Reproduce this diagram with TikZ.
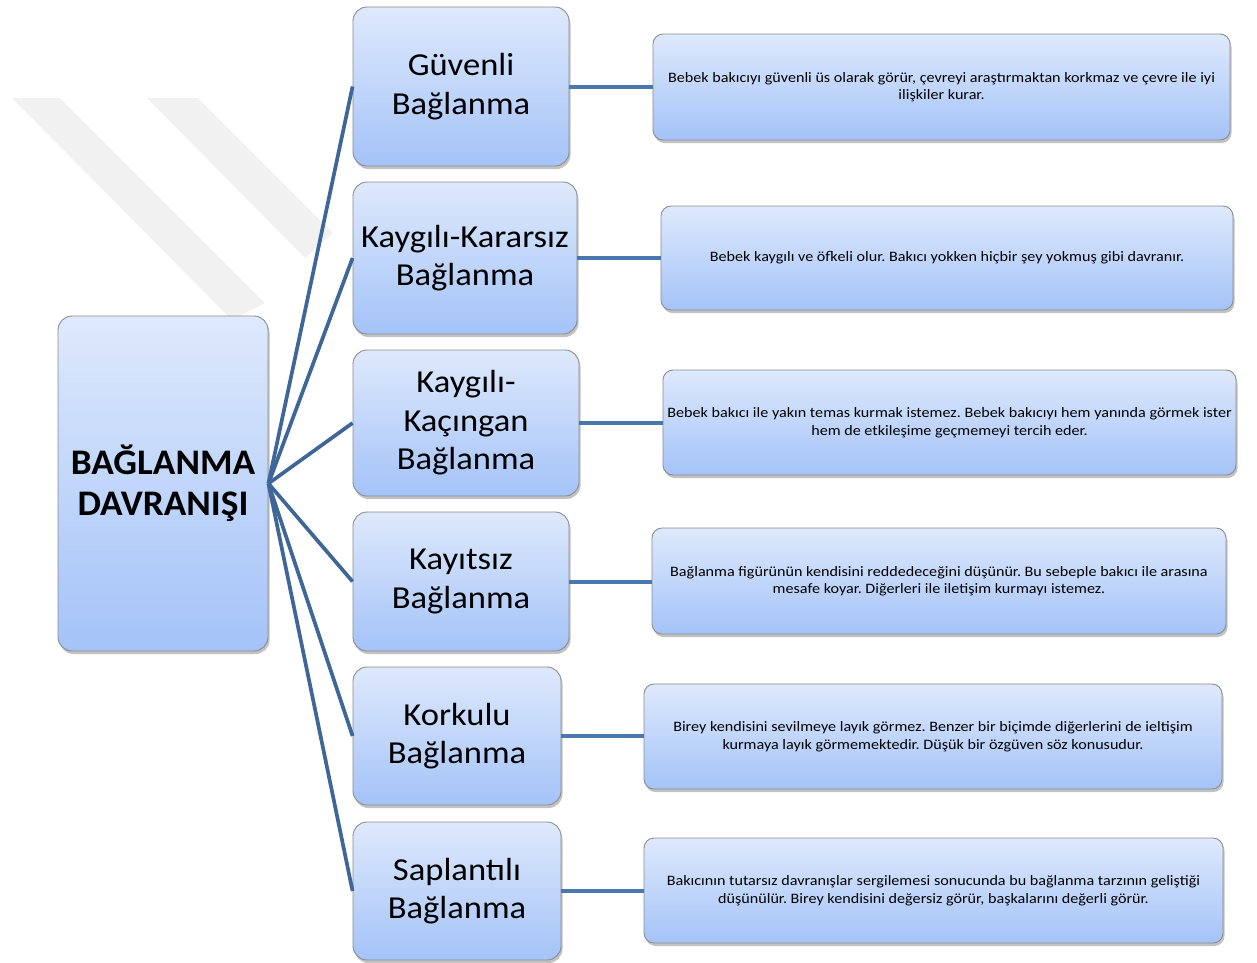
\documentclass[tikz,border=0pt]{standalone}
\usepackage{fontspec}
\setmainfont{Carlito}
\newfontfamily\midfont[FakeStretch=1.08]{Carlito}
\newfontfamily\mainfont[FakeStretch=1.035]{Carlito}
\newfontfamily\descfont[FakeStretch=1.12]{Carlito}
\usetikzlibrary{shadows}
\definecolor{boxtop}{HTML}{DEE9FC}
\definecolor{boxbot}{HTML}{A4C3F8}
\definecolor{fanline}{HTML}{3F6698}
\definecolor{hline}{HTML}{4A77AE}
\definecolor{wmark}{HTML}{F1F1F1}
\frenchspacing
\begin{document}
\begin{tikzpicture}[x=1pt,y=-1pt,
  box/.style={draw=black!45, line width=0.9pt, rounded corners=14pt,
    top color=boxtop, bottom color=boxbot,
    drop shadow={shadow xshift=1.5pt, shadow yshift=-3pt, opacity=0.4, fill=black!60},
    align=center, inner sep=1pt},
  mainbox/.style={box, minimum width=210pt, minimum height=335pt,
    font=\mainfont\fontsize{36}{41}\selectfont\bfseries},
  midbox/.style={box, font=\midfont\fontsize{32}{38.5}\selectfont},
  descbox/.style={box, rounded corners=10pt, font=\descfont\fontsize{14.4}{17.5}\selectfont\frenchspacing},
  fan/.style={draw=fanline, line width=3.7pt},
  link/.style={draw=hline, line width=4pt}]
\useasboundingbox (0,0) rectangle (1257,962);
% watermark
\fill[wmark] (12,98) -- (60,98) -- (265,303) -- (232,320) -- cycle;
\fill[wmark] (147,98) -- (198,98) -- (333,233) -- (305,258) -- cycle;
% nodes
\node[mainbox] (main) at (163,483.5) {BAĞLANMA\\DAVRANIŞI};
\node[midbox, minimum width=216pt, minimum height=159pt] (g1) at (461,86.5) {Güvenli\\Bağlanma};
\node[midbox, minimum width=224pt, minimum height=152pt] (g2) at (465,258) {Kaygılı-Kararsız\\Bağlanma};
\node[midbox, minimum width=226pt, minimum height=146pt] (g3) at (466,423) {Kaygılı-\\Kaçıngan\\Bağlanma};
\node[midbox, minimum width=216pt, minimum height=139pt] (g4) at (461,581.5) {Kayıtsız\\Bağlanma};
\node[midbox, minimum width=208pt, minimum height=138pt] (g5) at (457,736) {Korkulu\\Bağlanma};
\node[midbox, minimum width=208pt, minimum height=138pt] (g6) at (457,891) {Saplantılı\\Bağlanma};
\node[descbox, minimum width=577pt, minimum height=106pt] (d1) at (941.5,87) {Bebek bakıcıyı güvenli üs olarak görür, çevreyi araştırmaktan korkmaz ve çevre ile iyi\\ilişkiler kurar.};
\node[descbox, minimum width=572pt, minimum height=104pt] (d2) at (947,258) {Bebek kaygılı ve öfkeli olur. Bakıcı yokken hiçbir şey yokmuş gibi davranır.};
\node[descbox, minimum width=573pt, minimum height=105pt] (d3) at (949.5,422.5) {Bebek bakıcı ile yakın temas kurmak istemez. Bebek bakıcıyı hem yanında görmek ister\\hem de etkileşime geçmemeyi tercih eder.};
\node[descbox, minimum width=574pt, minimum height=106pt] (d4) at (939,581) {Bağlanma figürünün kendisini reddedeceğini düşünür. Bu sebeple bakıcı ile arasına\\mesafe koyar. Diğerleri ile iletişim kurmayı istemez.};
\node[descbox, minimum width=578pt, minimum height=105pt] (d5) at (933,736.5) {Birey kendisini sevilmeye layık görmez. Benzer bir biçimde diğerlerini de ieltişim\\kurmaya layık görmemektedir. Düşük bir özgüven söz konusudur.};
\node[descbox, minimum width=579pt, minimum height=105pt] (d6) at (933.5,890.5) {Bakıcının tutarsız davranışlar sergilemesi sonucunda bu bağlanma tarzının geliştiği\\düşünülür. Birey kendisini değersiz görür, başkalarını değerli görür.};
% connectors
\foreach \g in {g1,g2,g3,g4,g5,g6}
  \draw[fan] (main.east) -- (\g.west);
\foreach \g/\d in {g1/d1,g2/d2,g3/d3,g4/d4,g5/d5,g6/d6}
  \draw[link] (\g.east) -- (\g.east -| \d.west);
\end{tikzpicture}
\end{document}
